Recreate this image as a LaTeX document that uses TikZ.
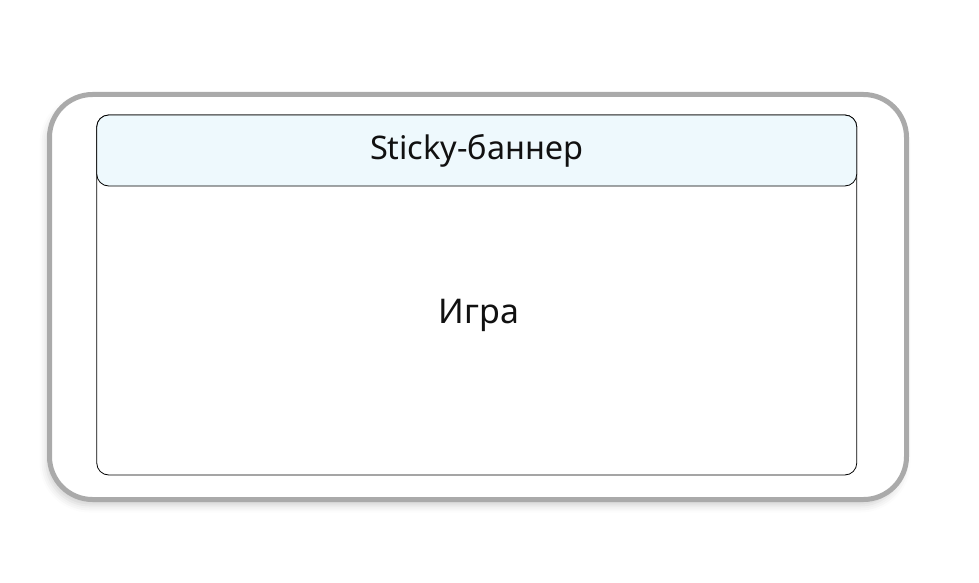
\documentclass[tikz,border=0pt]{standalone}
\usepackage{fontspec}
\setmainfont{Noto Sans}
\usetikzlibrary{positioning,shadows.blur}
\definecolor{framegray}{RGB}{170,170,170}
\definecolor{bannerblue}{RGB}{238,249,253}
\definecolor{textblack}{RGB}{17,17,17}
\tikzset{
    phone/.style={draw=framegray,line width=5pt,rounded corners=43pt,fill=white,
        minimum width=857pt,minimum height=405pt,
        blur shadow={shadow xshift=-3pt,shadow yshift=-6pt,shadow blur radius=7pt,shadow opacity=18}},
    screen/.style={draw=black,line width=0.8pt,rounded corners=12pt,fill=white,
        minimum width=760pt,minimum height=360pt},
    banner/.style={draw=black,line width=0.8pt,rounded corners=12pt,fill=bannerblue,
        minimum width=760pt,minimum height=71pt},
    label/.style={text=textblack,inner sep=0pt,anchor=base}
}
\begin{document}
\begin{tikzpicture}[x=1pt,y=-1pt]
\useasboundingbox (0,0) rectangle (979,583); % page size
\node[phone] (phone) at (478,297) {}; % outer frame
\node[screen] (game) at (476.75,295) {}; % game area
\node[banner,anchor=north] (sticky) at (game.north) {}; % sticky banner

%%% LABELS %%%
\node[label,font=\fontsize{32.5}{38}\selectfont] (bannertext) at (476.5,159) {Sticky-баннер};
\node[label,font=\fontsize{34}{40}\selectfont] (gametext) at (479,323) {Игра};
\end{tikzpicture}
\end{document}
